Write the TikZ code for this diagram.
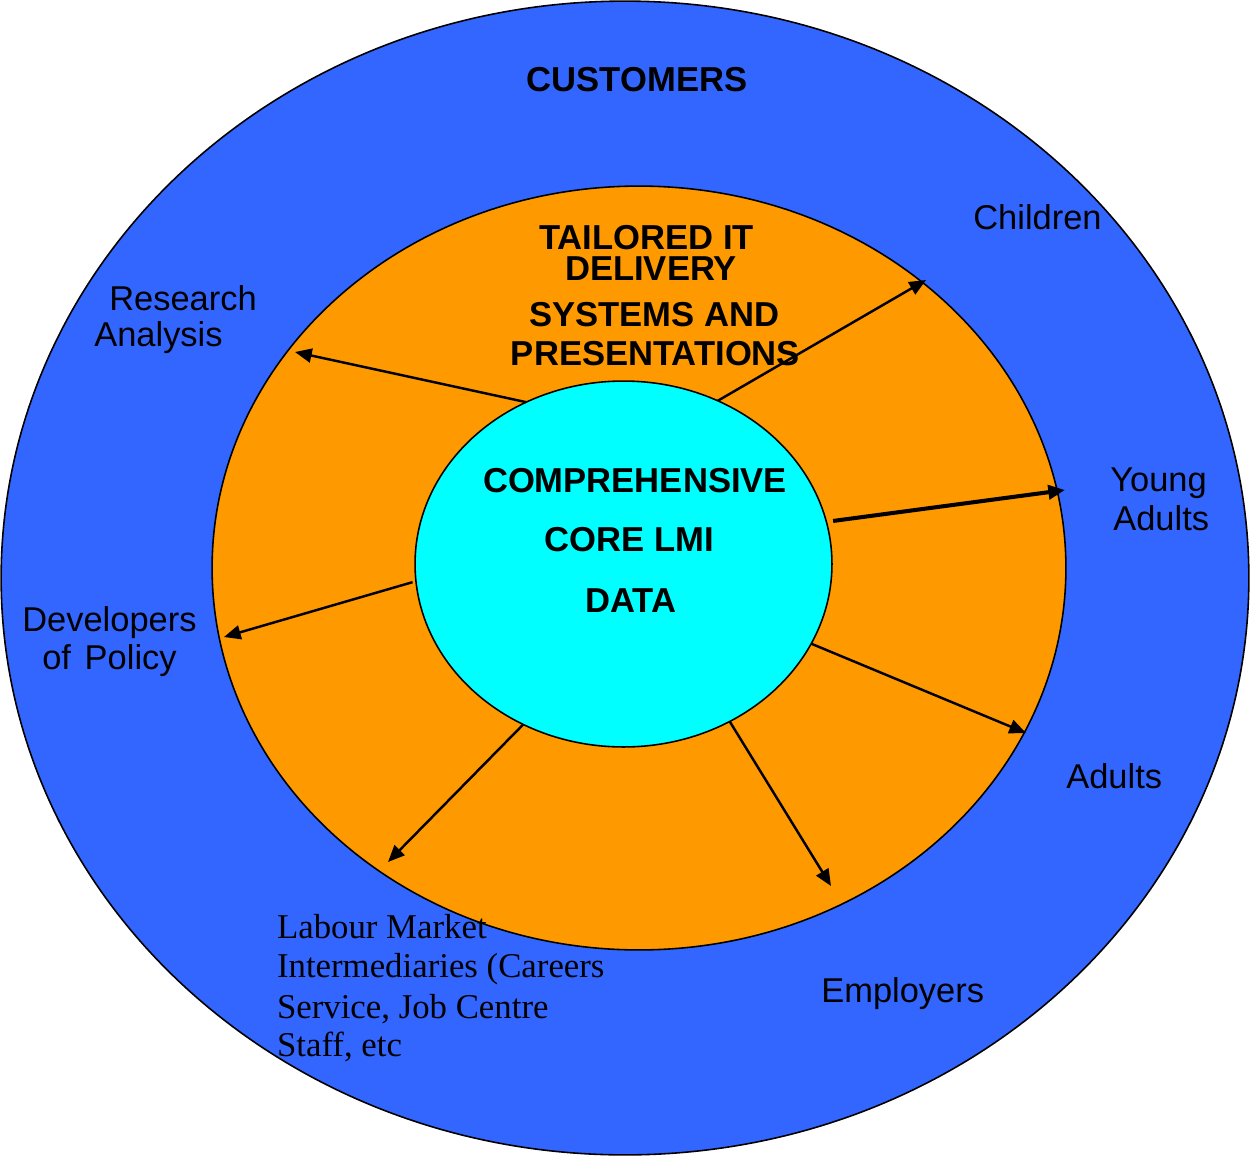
\documentclass[tikz,border=0pt]{standalone}
\usepackage{fontspec}
\setmainfont{Liberation Serif}
\newfontfamily\arialfont{Liberation Sans}
\usetikzlibrary{arrows.meta,shapes.geometric}
\definecolor{custblue}{HTML}{3366FF}
\definecolor{tailorange}{HTML}{FF9900}
\definecolor{corecyan}{HTML}{00FFFF}

\begin{document}
\begin{tikzpicture}[x=0.02cm,y=-0.02cm,
  ring/.style={ellipse, draw=black, line width=0.9pt, inner sep=0pt, outer sep=0pt},
  lbl/.style={font=\arialfont\fontsize{19.6}{21.8}\selectfont, inner sep=0pt},
  hdr/.style={font=\arialfont\bfseries\fontsize{19.7}{22}\selectfont, inner sep=0pt},
  tight/.style={text height=11pt, text depth=0pt},
  serif/.style={font=\fontsize{19.8}{22.4}\selectfont, inner sep=0pt, align=left},
  flow/.style={line width=1.4pt, -{Triangle[length=9.5pt,width=8pt]}}]
\useasboundingbox (0,0) rectangle (1250,1156);

% nested rings
\node[ring, fill=custblue, minimum width=24.96cm, minimum height=23.08cm] (customers) at (625,578) {};
\node[ring, fill=tailorange, minimum width=17.08cm, minimum height=15.28cm] (delivery) at (639,568) {};
\node[ring, fill=corecyan, minimum width=8.34cm, minimum height=7.32cm] (core) at (623.5,564) {};

% ring titles
\node[hdr, anchor=base] (custtitle) at (637,91) {CUSTOMERS};
\node[hdr, tight, anchor=base] (tail1) at (646.5,249) {TAILORED IT};
\node[hdr, tight, anchor=base] (tail2) at (651,280) {DELIVERY};
\node[hdr, tight, anchor=base] (tail3) at (654.5,326) {SYSTEMS AND};
\node[hdr, tight, anchor=base] (tail4) at (655.5,365) {PRESENTATIONS};
\node[hdr, anchor=base] (core1) at (635,492.7) {COMPREHENSIVE};
\node[hdr, anchor=base] (core2) at (629.5,551.7) {CORE LMI};
\node[hdr, anchor=base] (core3) at (631,612.7) {DATA};

% customer groups
\node[lbl, anchor=base west] (children) at (973,229.3) {Children};
\node[lbl, anchor=base west] (research) at (109,310.7) {Research};
\node[lbl, anchor=base west] (analysis) at (94,346) {Analysis};
\node[lbl, anchor=base west] (young) at (1110,491.7) {Young};
\node[lbl, anchor=base west] (youngb) at (1113,530) {Adults};
\node[lbl, anchor=base west] (developers) at (22,631) {Developers};
\node[lbl, anchor=base west] (policy) at (42,669) {of\hspace{0.12em} Policy};
\node[lbl, anchor=base west] (adults) at (1066,788.3) {Adults};
\node[lbl, anchor=base west] (employers) at (821,1002.7) {Employers};
\node[serif, anchor=base west] (lmi1) at (276.7,938.3) {Labour Market};
\node[serif, anchor=base west] (lmi2) at (276.7,977.3) {Intermediaries (Careers};
\node[serif, anchor=base west] (lmi3) at (276.7,1018.3) {Service, Job Centre};
\node[serif, anchor=base west] (lmi4) at (276.7,1056.7) {Staff, etc};

% arrow tips
\coordinate (tipResearch) at (295,352);
\coordinate (tipChildren) at (926,280);
\coordinate (tipYoung) at (1065,490);
\coordinate (tipPolicy) at (224,637);
\coordinate (tipAdults) at (1026,733);
\coordinate (tipLMI) at (388,862);
\coordinate (tipEmployers) at (831,886);

% data flows out of the core
\draw[flow] (core.121.2) -- (tipResearch);
\draw[flow] (core.60.7) -- (tipChildren);
\draw[flow, line width=2.3pt] ([xshift=4pt]core.12.4) -- (tipYoung);
\draw[flow] ([xshift=-2pt]core.185.7) -- (tipPolicy);
\draw[flow] (core.-23.1) -- (tipAdults);
\draw[flow] (core.238.8) -- (tipLMI);
\draw[flow] (core.-56.5) -- (tipEmployers);
\end{tikzpicture}
\end{document}
